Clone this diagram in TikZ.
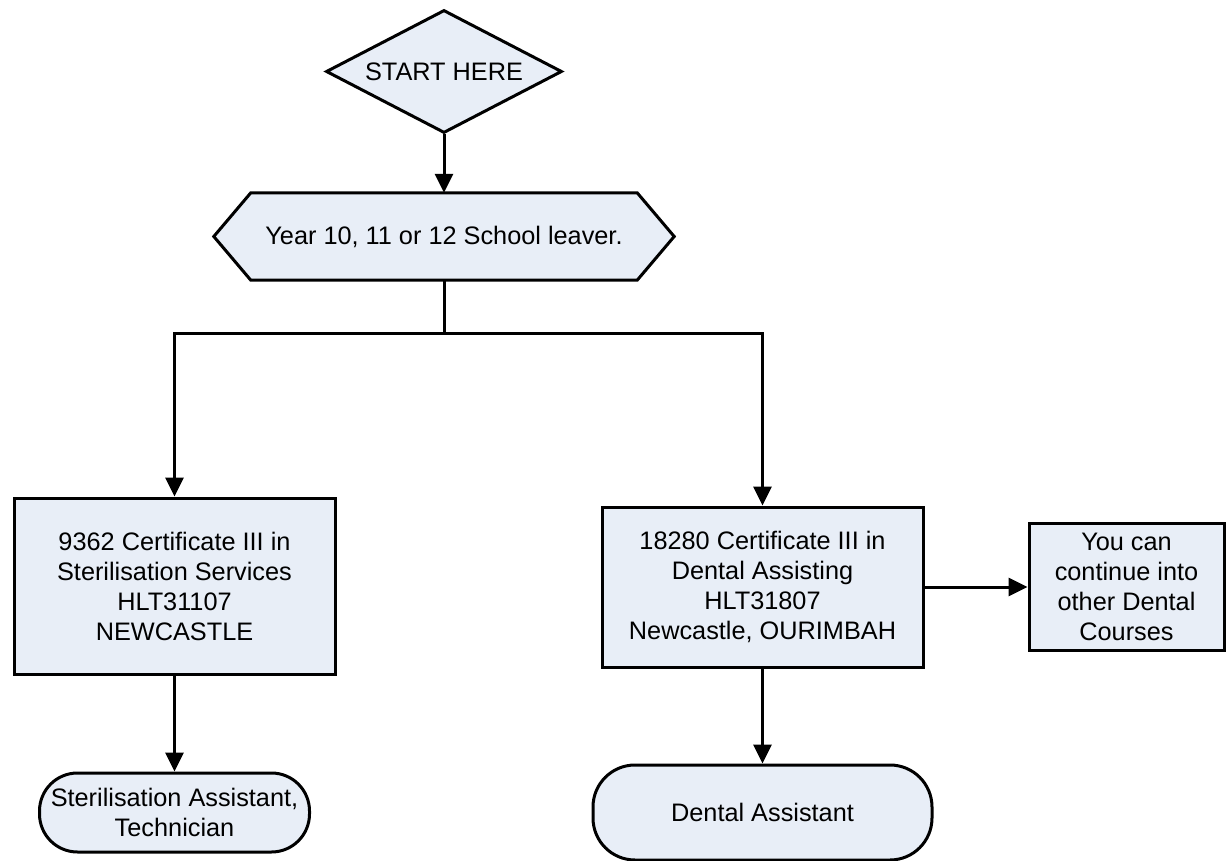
\documentclass[tikz,border=0pt]{standalone}
\usepackage{fontspec}
\setmainfont{Liberation Sans}
\usetikzlibrary{shapes.geometric,arrows.meta,backgrounds}
\definecolor{boxfill}{RGB}{232,238,247}
\begin{document}
\begin{tikzpicture}[x=1pt,y=-1pt,
  every node/.style={font=\fontsize{25.3}{30}\selectfont, align=center, inner sep=0pt},
  box/.style={draw, line width=3pt, fill=boxfill, rectangle},
  term/.style={draw, line width=3pt, fill=boxfill, rectangle},
  decision/.style={draw, line width=3pt, fill=boxfill, diamond, shape aspect=2},
  conn/.style={line width=3pt},
  arr/.style={line width=3pt, -{Triangle[length=19pt,width=18pt]}}]
\useasboundingbox (0,0) rectangle (1226,861);

\node[decision, minimum width=236pt, minimum height=123pt] (start) at (444,71.5) {START HERE};

\node[minimum width=460pt, minimum height=87pt] (leaver) at (444,236.5) {Year 10, 11 or 12 School leaver.};
\begin{scope}[on background layer]
\draw[line width=3pt, fill=boxfill, line join=miter]
  (leaver.west) -- ([xshift=37pt]leaver.north west) -- ([xshift=-37pt]leaver.north east)
  -- (leaver.east) -- ([xshift=-37pt]leaver.south east) -- ([xshift=37pt]leaver.south west) -- cycle;
\end{scope}

\node[box, minimum width=321pt, minimum height=176pt] (steril) at (174.5,586)
  {9362 Certificate III in\\Sterilisation Services\\HLT31107\\NEWCASTLE};
\node[box, minimum width=321pt, minimum height=160pt] (dental) at (762.5,587)
  {18280 Certificate III in\\Dental Assisting\\HLT31807\\Newcastle, OURIMBAH};
\node[box, minimum width=195pt, minimum height=127pt] (cont) at (1126.5,587)
  {You can\\continue into\\other Dental\\Courses};

\node[term, rounded corners=38pt, minimum width=270pt, minimum height=79pt] (sterjob) at (174.5,812.5)
  {Sterilisation Assistant,\\Technician};
\node[term, rounded corners=42pt, minimum width=339pt, minimum height=95pt] (dentjob) at (762.5,812.5)
  {Dental Assistant};

\coordinate (split) at (444,333);

\draw[arr] (start.south) -- (leaver.north);
\draw[conn] (leaver.south) -- (split);
\draw[arr] (split) -| (steril.north);
\draw[arr] (split) -| (dental.north);
\draw[arr] (steril.south) -- (sterjob.north);
\draw[arr] (dental.south) -- (dentjob.north);
\draw[arr] (dental.east) -- (cont.west);
\end{tikzpicture}
\end{document}
